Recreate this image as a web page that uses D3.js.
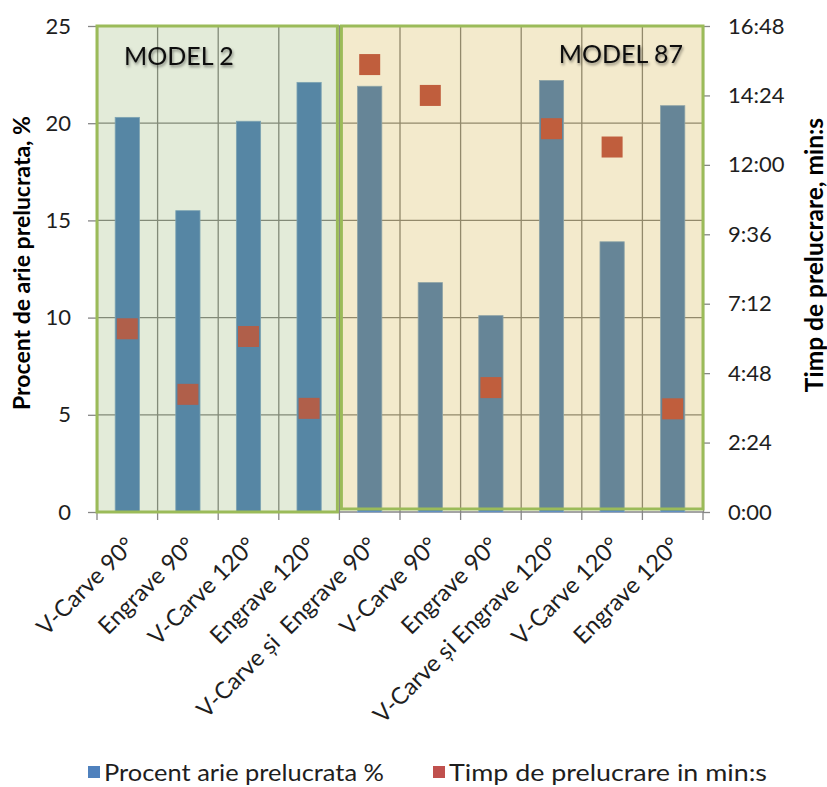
<!DOCTYPE html>
<html>
<head>
<meta charset="utf-8">
<script src="https://cdn.jsdelivr.net/npm/d3@7"></script>
<style>
  html, body { margin: 0; padding: 0; background: #ffffff; }
  svg { display: block; font-family: Lato, "Open Sans", sans-serif; }
</style>
</head>
<body>
<svg id="chart" width="827" height="787"></svg>
<script>
// Machining tests: share of processed area (bars, left axis) and
// processing time (squares, right axis) for two models.
const categories = [
  "V-Carve 90°", "Engrave 90°", "V-Carve 120°", "Engrave 120°",
  "V-Carve și  Engrave 90°", "V-Carve 90°", "Engrave 90°",
  "V-Carve și Engrave 120°", "V-Carve 120°", "Engrave 120°"
];
const percentArea = [20.3, 15.5, 20.1, 22.1, 21.9, 11.8, 10.1, 22.2, 13.9, 20.9];
const processingTime = ["6:20", "4:04", "6:04", "3:35", "15:28", "14:24", "4:18", "13:15", "12:37", "3:34"];

const leftTicks = [0, 5, 10, 15, 20, 25];
const rightTicks = ["0:00", "2:24", "4:48", "7:12", "9:36", "12:00", "14:24", "16:48"];

const modelNames = ["MODEL 2", "MODEL 87"];
const modelFirst = [0, 4];
const modelLast = [3, 9];

const legendLabels = ["Procent arie prelucrata %", "Timp de prelucrare in min:s"];
const leftTitle = "Procent de arie prelucrata, %";
const rightTitle = "Timp de prelucrare, min:s";

const toSeconds = s => { const [m, sec] = s.split(":").map(Number); return m * 60 + sec; };
const fmtTime = v => `${Math.floor(v / 60)}:${String(Math.round(v % 60)).padStart(2, "0")}`;

const plot = { left: 97, right: 703, top: 26, bottom: 512 };
const svg = d3.select("#chart");

const defs = svg.append("defs");
const soft = defs.append("filter").attr("id", "softShadow")
  .attr("x", "-20%").attr("y", "-40%").attr("width", "140%").attr("height", "180%");
soft.append("feDropShadow").attr("dx", 1).attr("dy", 2).attr("stdDeviation", 1.8)
  .attr("flood-color", "#000").attr("flood-opacity", 0.45);
const barShadow = defs.append("filter").attr("id", "lineShadow")
  .attr("x", "-200%").attr("y", "-5%").attr("width", "500%").attr("height", "110%");
barShadow.append("feDropShadow").attr("dx", 1.5).attr("dy", 2).attr("stdDeviation", 1.5)
  .attr("flood-color", "#000").attr("flood-opacity", 0.4);

const idx = d3.range(categories.length);
const x = d3.scaleBand().domain(idx).range([plot.left, plot.right]).paddingInner(0).paddingOuter(0);
const yL = d3.scaleLinear().domain([0, 25]).range([plot.bottom, plot.top]);
const yR = d3.scaleLinear().domain([0, toSeconds("16:48")]).range([plot.bottom, plot.top]);

const gridColor = "#868686";
const textColor = "#1e1e1e";

// gridlines
svg.append("g").selectAll("line").data(leftTicks.filter(d => d > 0)).join("line")
  .attr("x1", plot.left).attr("x2", plot.right)
  .attr("y1", d => yL(d)).attr("y2", d => yL(d))
  .attr("stroke", gridColor).attr("stroke-width", 1.3);
svg.append("g").selectAll("line").data(d3.range(1, categories.length)).join("line")
  .attr("x1", d => x(d)).attr("x2", d => x(d))
  .attr("y1", plot.top).attr("y2", plot.bottom)
  .attr("stroke", gridColor).attr("stroke-width", 1.3);

// left axis
const gL = svg.append("g").attr("transform", `translate(${plot.left},0)`)
  .call(d3.axisLeft(yL).tickValues(leftTicks).tickSize(9).tickPadding(17).tickSizeOuter(0));
// right axis
const gR = svg.append("g").attr("transform", `translate(${plot.right},0)`)
  .call(d3.axisRight(yR).tickValues(rightTicks.map(toSeconds)).tickFormat(fmtTime)
    .tickSize(7).tickPadding(18).tickSizeOuter(0));
[gL, gR].forEach(g => {
  g.select(".domain").attr("stroke", gridColor).attr("stroke-width", 1.3);
  g.selectAll(".tick line").attr("stroke", gridColor).attr("stroke-width", 1.3);
  g.selectAll(".tick text").attr("font-size", 22).attr("fill", textColor)
    .attr("font-family", "Lato, sans-serif");
});

// bottom axis line and category boundary ticks
svg.append("line").attr("x1", plot.left).attr("x2", plot.right)
  .attr("y1", plot.bottom).attr("y2", plot.bottom)
  .attr("stroke", gridColor).attr("stroke-width", 1.3);
svg.append("g").selectAll("line").data(d3.range(0, categories.length + 1)).join("line")
  .attr("x1", d => d < categories.length ? x(d) : plot.right)
  .attr("x2", d => d < categories.length ? x(d) : plot.right)
  .attr("y1", plot.bottom).attr("y2", plot.bottom + 8)
  .attr("stroke", gridColor).attr("stroke-width", 1.3);

// bars
const barW = x.bandwidth() * 0.4;
svg.append("g").selectAll("rect").data(idx).join("rect")
  .attr("x", i => x(i) + (x.bandwidth() - barW) / 2)
  .attr("width", barW)
  .attr("y", i => yL(percentArea[i]))
  .attr("height", i => plot.bottom - yL(percentArea[i]))
  .attr("fill", "#4F81BD")
  .attr("stroke", "#7FA6CF").attr("stroke-width", 0.8);

// time markers
const sq = 21;
svg.append("g").selectAll("rect").data(idx).join("rect")
  .attr("x", i => x(i) + x.bandwidth() / 2 - sq / 2)
  .attr("y", i => yR(toSeconds(processingTime[i])) - sq / 2)
  .attr("width", sq).attr("height", sq)
  .attr("fill", "#C0504D");

// model regions (tinted panels over the plot)
const regionFill = ["rgba(115,155,65,0.2)", "rgba(195,150,0,0.2)"];
const regionBottom = [plot.bottom, plot.bottom - 3];
modelNames.forEach((name, k) => {
  const x0 = x(modelFirst[k]) + (k === 0 ? 0 : 2);
  const x1 = (modelLast[k] + 1 < categories.length ? x(modelLast[k] + 1) : plot.right) - (k === 0 ? 2 : 0);
  svg.append("rect")
    .attr("x", x0).attr("y", plot.top)
    .attr("width", x1 - x0).attr("height", regionBottom[k] - plot.top)
    .attr("fill", regionFill[k])
    .attr("stroke", "#9BBB59").attr("stroke-width", 3);
});

// separator between the two models
const sepX = x(modelFirst[1]);
svg.append("line")
  .attr("x1", sepX).attr("x2", sepX)
  .attr("y1", plot.top - 4).attr("y2", plot.bottom + 9)
  .attr("stroke", "#8DB152").attr("stroke-width", 6)
  .attr("filter", "url(#lineShadow)");

// model captions
svg.append("text").attr("x", 124).attr("y", 65)
  .attr("font-size", 25).attr("fill", "#111").attr("filter", "url(#softShadow)")
  .text(modelNames[0]);
svg.append("text").attr("x", 683).attr("y", 63).attr("text-anchor", "end")
  .attr("font-size", 25).attr("fill", "#111").attr("filter", "url(#softShadow)")
  .text(modelNames[1]);

// category labels
svg.append("g").selectAll("text").data(idx).join("text")
  .attr("transform", i => `translate(${x(i) + x.bandwidth() / 2 + 9},547) rotate(-45)`)
  .attr("text-anchor", "end")
  .attr("font-size", 23.5).attr("fill", textColor)
  .style("white-space", "pre")
  .text(i => categories[i]);

// axis titles
svg.append("text")
  .attr("transform", `translate(30,263) rotate(-90)`)
  .attr("text-anchor", "middle").attr("font-weight", "bold")
  .attr("font-size", 23).attr("fill", "#000")
  .text(leftTitle);
svg.append("text")
  .attr("transform", `translate(823,255) rotate(-90)`)
  .attr("text-anchor", "middle").attr("font-weight", "bold")
  .attr("font-size", 24.5).attr("fill", "#000")
  .text(rightTitle);

// legend
const legendColors = ["#4F81BD", "#C0504D"];
const legendX = [88, 433];
const legendLen = [280, 318];
legendLabels.forEach((lab, k) => {
  svg.append("rect").attr("x", legendX[k]).attr("y", 766).attr("width", 12).attr("height", 12)
    .attr("fill", legendColors[k]);
  svg.append("text").attr("x", legendX[k] + 16).attr("y", 781)
    .attr("font-size", 24).attr("fill", textColor)
    .attr("textLength", legendLen[k]).attr("lengthAdjust", "spacingAndGlyphs")
    .text(lab);
});
</script>
</body>
</html>
